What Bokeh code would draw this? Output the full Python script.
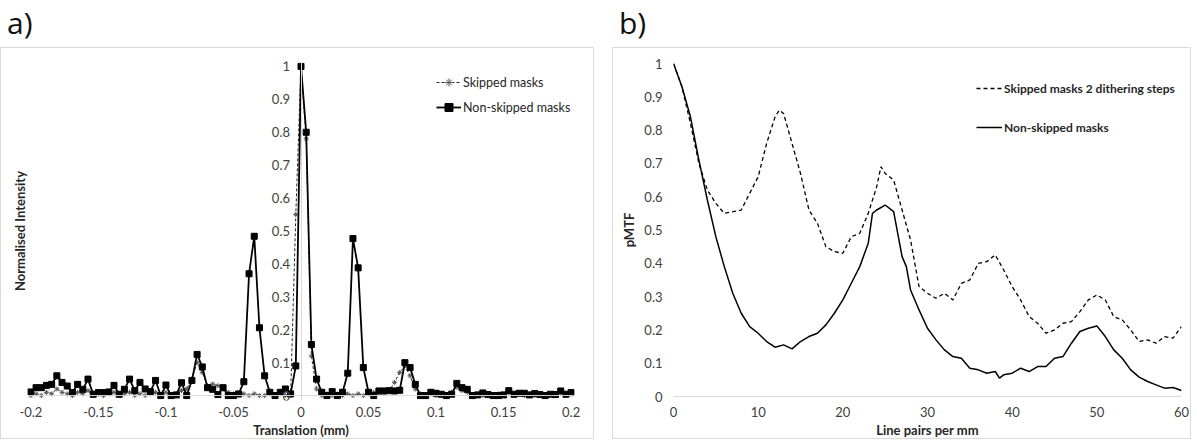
from bokeh.plotting import figure
from bokeh.models import (Range1d, FixedTicker, CustomJSTickFormatter, Legend, LegendItem,
                          Title, Div, Span)
from bokeh.layouts import row, column
from bokeh.embed import file_html
from bokeh.resources import INLINE

FONT = "Lato"
AXIS_GRAY = "#d9d9d9"
TICK_COLOR = "#404040"

# ---------------- panel a data ----------------
a_x_start = -0.2
a_x_step = 0.4 / 104
nonskipped_a = [
    0.011, 0.024, 0.024, 0.031, 0.034, 0.06, 0.04, 0.029, 0.009, 0.034,
    0.019, 0.05, 0.004, 0.009, 0.009, 0.011, 0.031, 0.004, 0.019, 0.05,
    0.015, 0.04, 0.02, 0.012, 0.046, 0.0, 0.032, 0.0, 0.002, 0.039,
    0.0, 0.046, 0.125, 0.087, 0.024, 0.019, 0.003, 0.024, 0.0, 0.0,
    0.005, 0.042, 0.37, 0.484, 0.206, 0.06, 0.01, 0.0, 0.01, 0.02,
    0.005, 0.09, 1.0, 0.8, 0.155, 0.05, 0.01, 0.0, 0.012, 0.0,
    0.01, 0.068, 0.477, 0.388, 0.085, 0.01, 0.0, 0.014, 0.014, 0.015,
    0.014, 0.016, 0.1, 0.085, 0.034, 0.0, 0.0, 0.01, 0.007, 0.004,
    0.0, 0.004, 0.037, 0.024, 0.019, 0.0, 0.002, 0.008, 0.003, 0.0,
    0.0, 0.002, 0.015, 0.004, 0.007, 0.007, 0.002, 0.006, 0.003, 0.0,
    0.004, 0.003, 0.014, 0.004, 0.009,
]
skipped_a = [
    0.0, 0.005, 0.0, 0.01, 0.005, 0.02, 0.01, 0.005, 0.0, 0.01,
    0.005, 0.015, 0.0, 0.005, 0.0, 0.005, 0.01, 0.0, 0.005, 0.01,
    0.0, 0.005, 0.0, 0.005, 0.01, 0.0, 0.01, 0.0, 0.005, 0.015,
    0.02, 0.05, 0.1, 0.07, 0.03, 0.035, 0.03, 0.02, 0.01, 0.005,
    0.0, 0.005, 0.0, 0.005, 0.0, 0.0, 0.005, 0.0, 0.005, 0.0,
    0.0, 0.55, 1.0, 0.78, 0.12, 0.02, 0.0, 0.005, 0.0, 0.005,
    0.0, 0.005, 0.0, 0.005, 0.0, 0.005, 0.01, 0.01, 0.01, 0.015,
    0.04, 0.07, 0.09, 0.06, 0.02, 0.005, 0.0, 0.005, 0.0, 0.005,
    0.0, 0.01, 0.025, 0.015, 0.01, 0.0, 0.005, 0.0, 0.005, 0.0,
    0.005, 0.0, 0.01, 0.0, 0.005, 0.0, 0.005, 0.0, 0.005, 0.0,
    0.005, 0.0, 0.01, 0.0, 0.005,
]
translation_mm = [round(a_x_start + a_x_step * i, 6) for i in range(len(nonskipped_a))]
a_xticks = [-0.2, -0.15, -0.1, -0.05, 0, 0.05, 0.1, 0.15, 0.2]
a_yticks = [0, 0.1, 0.2, 0.3, 0.4, 0.5, 0.6, 0.7, 0.8, 0.9, 1.0]

# ---------------- panel b data ----------------
lp_non = [0, 1, 2, 3, 4, 5, 6, 7, 8, 9, 10, 11, 12, 13, 14, 15, 16, 17, 18, 19,
          20, 21, 22, 23, 23.5, 24, 25, 26, 27, 27.5, 28, 29, 30, 31, 32, 33, 34,
          35, 36, 37, 38, 38.5, 39, 40, 41, 42, 43, 44, 45, 46, 47, 48, 49, 50,
          51, 52, 53, 54, 55, 56, 57, 58, 59, 60]
mtf_non = [1.0, 0.93, 0.84, 0.71, 0.59, 0.48, 0.39, 0.31, 0.25, 0.21, 0.19, 0.165,
           0.148, 0.155, 0.143, 0.165, 0.18, 0.19, 0.215, 0.25, 0.29, 0.34, 0.39,
           0.46, 0.55, 0.56, 0.575, 0.555, 0.42, 0.39, 0.32, 0.26, 0.205, 0.17, 0.14,
           0.12, 0.115, 0.085, 0.08, 0.07, 0.075, 0.055, 0.065, 0.07, 0.085, 0.075,
           0.09, 0.09, 0.115, 0.12, 0.16, 0.195, 0.205, 0.212, 0.18, 0.14, 0.115,
           0.08, 0.058, 0.045, 0.035, 0.025, 0.027, 0.018]
lp_skip = [0, 1, 2, 3, 4, 5, 6, 7, 8, 9, 10, 11, 12, 12.5, 13, 14, 15, 16, 17, 18,
           19, 20, 21, 22, 23, 24, 24.5, 25, 26, 27, 28, 29, 30, 31, 32, 33, 34, 35,
           36, 37, 38, 39, 40, 41, 42, 43, 44, 45, 46, 47, 48, 49, 50, 51, 52, 53,
           54, 55, 56, 57, 58, 59, 60]
mtf_skip = [1.0, 0.93, 0.82, 0.7, 0.62, 0.58, 0.55, 0.555, 0.56, 0.61, 0.66, 0.76,
            0.84, 0.86, 0.85, 0.76, 0.67, 0.56, 0.52, 0.45, 0.435, 0.43, 0.48, 0.49,
            0.55, 0.63, 0.69, 0.67, 0.65, 0.56, 0.47, 0.33, 0.31, 0.295, 0.31, 0.29,
            0.34, 0.35, 0.4, 0.405, 0.425, 0.38, 0.33, 0.29, 0.24, 0.22, 0.19, 0.2,
            0.22, 0.225, 0.255, 0.29, 0.305, 0.29, 0.24, 0.23, 0.2, 0.165, 0.17,
            0.16, 0.18, 0.175, 0.21]
b_xticks = [0, 10, 20, 30, 40, 50, 60]
b_yticks = [0, 0.1, 0.2, 0.3, 0.4, 0.5, 0.6, 0.7, 0.8, 0.9, 1.0]


def style_axis(ax, ticks, code):
    ax.ticker = FixedTicker(ticks=ticks)
    ax.formatter = CustomJSTickFormatter(code=code)
    ax.axis_line_color = AXIS_GRAY
    ax.axis_line_width = 1
    ax.major_tick_line_color = None
    ax.minor_tick_line_color = None
    ax.major_tick_out = 0
    ax.major_tick_in = 0
    ax.major_label_text_font = FONT
    ax.major_label_text_font_size = "13px"
    ax.major_label_text_color = TICK_COLOR
    ax.major_label_standoff = 11
    ax.axis_label_text_font = FONT
    ax.axis_label_text_font_size = "13px"
    ax.axis_label_text_font_style = "bold"
    ax.axis_label_text_color = "#262626"
    ax.axis_label_standoff = 2


FMT1 = "return String(Math.round(tick*10)/10);"
FMT2 = "return String(Math.round(tick*100)/100);"

BOX = {"border": "1px solid #d9d9d9", "box-sizing": "border-box"}

# ---------------- panel a ----------------
pa = figure(width=594, height=392,
            x_range=Range1d(-0.2025, 0.2025), y_range=Range1d(-0.015, 1.015),
            output_backend="svg", toolbar_location=None,
            min_border_left=26, min_border_right=21, min_border_top=13, min_border_bottom=39,
            styles=BOX)
pa.grid.visible = False
pa.outline_line_color = None

pa.add_layout(Span(location=0, dimension="width", line_color=AXIS_GRAY, line_width=1))

r_sk_l = pa.line(translation_mm, skipped_a, line_color="#262626", line_width=1, line_dash="3 2")
r_sk_m = pa.scatter(translation_mm, skipped_a, marker="asterisk", size=5,
                    line_color="#595959", line_width=1)
r_ns_l = pa.line(translation_mm, nonskipped_a, line_color="black", line_width=1.8)
r_ns_m = pa.scatter(translation_mm, nonskipped_a, marker="square", size=6,
                    fill_color="black", line_color="black")

xa = pa.xaxis[0]
style_axis(xa, a_xticks, FMT2)
xa.axis_line_color = None
xa.major_label_standoff = 6
xa.axis_label = "Translation (mm)"
ya = pa.yaxis[0]
style_axis(ya, a_yticks, FMT1)
ya.fixed_location = 0

pa.add_layout(Title(text="Normalised Intensity", align="center", text_font=FONT,
                    text_font_size="13px", text_font_style="bold",
                    text_color="#262626", standoff=0), "left")

leg_a = Legend(items=[LegendItem(label="Skipped masks", renderers=[r_sk_l, r_sk_m]),
                      LegendItem(label="Non-skipped masks", renderers=[r_ns_l, r_ns_m])],
               location=(409, 283), background_fill_alpha=0, border_line_color=None,
               padding=0, margin=0, spacing=5, glyph_width=25, glyph_height=20,
               label_standoff=2, label_text_font=FONT, label_text_font_size="12.5px",
               label_text_color="#262626")
pa.add_layout(leg_a)

# ---------------- panel b ----------------
pb = figure(width=579, height=392,
            x_range=Range1d(0, 60), y_range=Range1d(0, 1),
            output_backend="svg", toolbar_location=None,
            min_border_left=60, min_border_right=11, min_border_top=15, min_border_bottom=44,
            styles=BOX)
pb.grid.visible = False
pb.outline_line_color = None

r_b_sk = pb.line(lp_skip, mtf_skip, line_color="black", line_width=1.3, line_dash="4 3")
r_b_ns = pb.line(lp_non, mtf_non, line_color="black", line_width=1.5)

xb = pb.xaxis[0]
style_axis(xb, b_xticks, FMT1)
xb.major_label_standoff = 10
xb.axis_label = "Line pairs per mm"
yb = pb.yaxis[0]
style_axis(yb, b_yticks, FMT1)
yb.axis_line_color = None
yb.axis_label = "pMTF"
yb.axis_label_standoff = 4

leg_b = Legend(items=[LegendItem(label="Skipped masks 2 dithering steps", renderers=[r_b_sk]),
                      LegendItem(label="Non-skipped masks", renderers=[r_b_ns])],
               location=(303, 259), background_fill_alpha=0, border_line_color=None,
               padding=0, margin=0, spacing=19, glyph_width=26, glyph_height=20,
               label_standoff=2, label_text_font=FONT, label_text_font_size="12px",
               label_text_font_style="bold", label_text_color="#262626")
pb.add_layout(leg_b)

LBL = ('<div style="font-family: \'Open Sans\'; font-size: 30px; line-height: 30px; '
       'margin: 3px 0 0 2px; color: #111;">{}</div>')
div_a = Div(text=LBL.format("a)"), width=594, height=37)
div_b = Div(text=LBL.format("b)"), width=579, height=37)

layout = row(column(div_a, pa, spacing=0), column(div_b, pb, spacing=0), spacing=8)

open("out.html", "w").write(file_html(layout, INLINE))
